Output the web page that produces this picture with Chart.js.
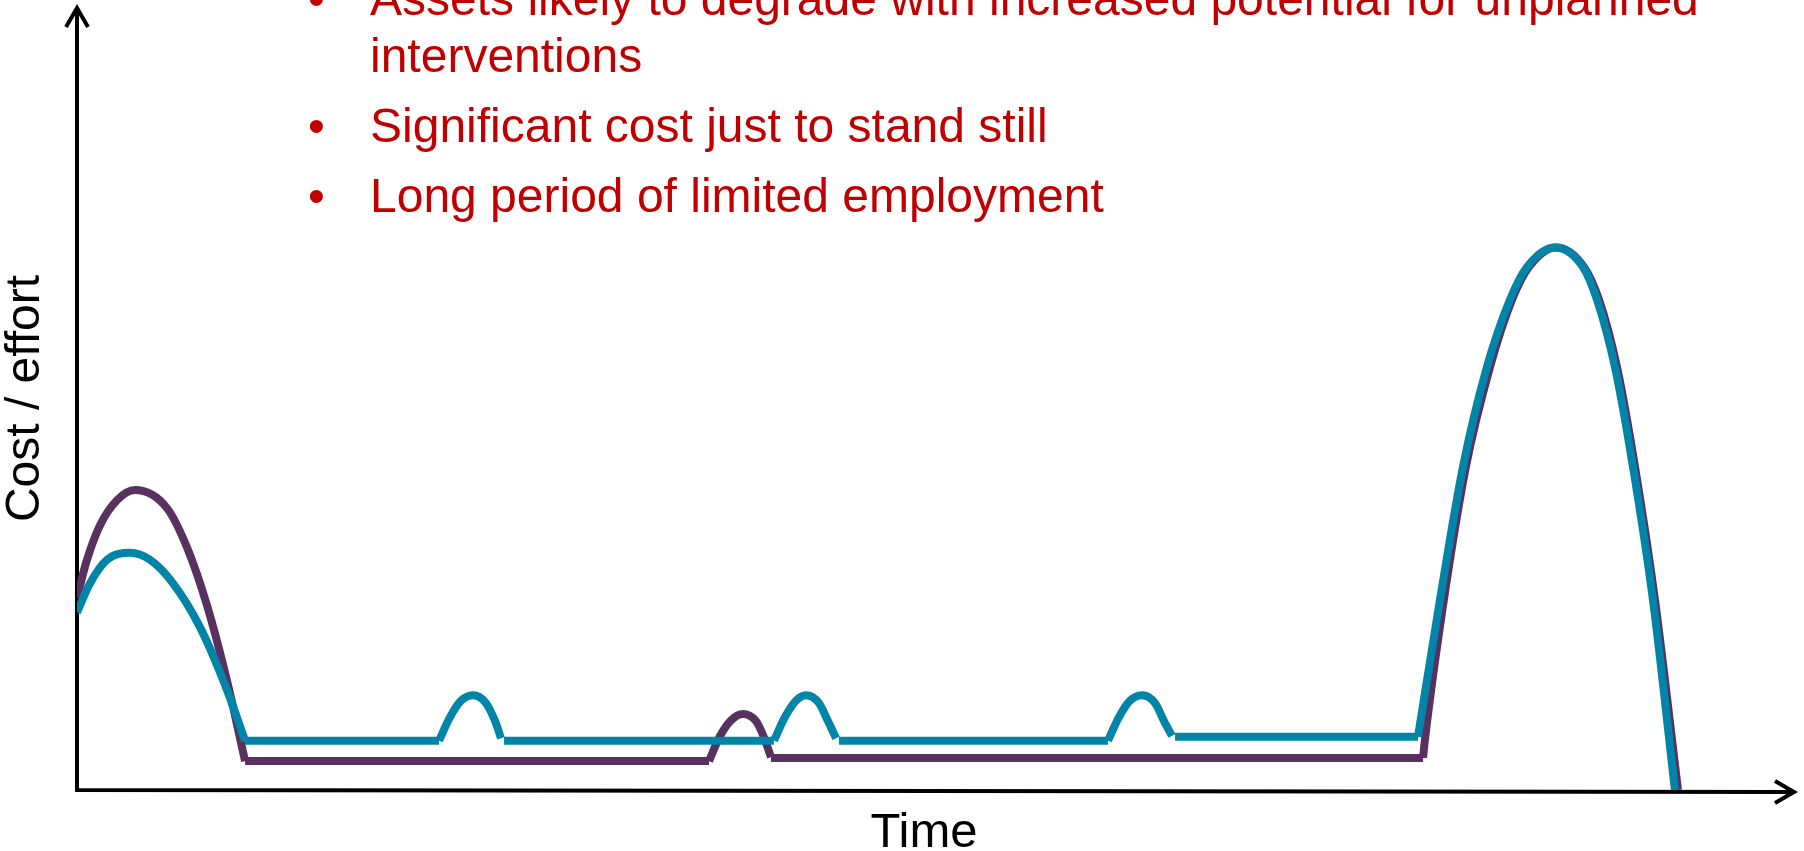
<!DOCTYPE html>
<html>
<head>
<meta charset="utf-8">
<title>Cost / effort over time</title>
<script src="https://cdn.jsdelivr.net/npm/chart.js@4.4.1/dist/chart.umd.min.js"></script>
<style>
  html, body { margin: 0; padding: 0; background: #fff; overflow: hidden; }
  #wrap { position: relative; width: 1804px; height: 851px; }
  #lifeChart { position: absolute; left: 0; top: 0; }
  #notes {
    position: absolute; left: 370px; top: -30px; margin: 0; padding: 0; list-style: none;
    font: 48px/57px "Liberation Sans", Arial, sans-serif; color: #c00000; white-space: nowrap;
  }
  #notes li { position: relative; }
  #notes li + li { margin-top: 13px; }
  #notes li::before { content: "\2022"; position: absolute; left: -62px; }
</style>
</head>
<body>
<div id="wrap">
  <canvas id="lifeChart" width="1804" height="851"></canvas>
  <ul id="notes"></ul>
</div>
<script>
// bullet text above the curves
const noteLines = [
  ["Assets likely to degrade with increased potential for unplanned", "interventions"],
  ["Significant cost just to stand still"],
  ["Long period of limited employment"],
];

const xTitle = "Time";
const yTitle = "Cost / effort";

// teal curve (time 0-100, cost 0-100); a null y starts a new piece
const tealX = [
  0, 0.77, 1.77, 3.13, 4.31, 5.67, 7.26, 8.85, 9.92, 9.92,
  9.92, 21.37, 21.37,
  21.37, 22.02, 22.67, 23.38, 24.14, 24.68, 25.03, 25.10,
  25.21, 41.14, 41.14,
  41.14, 41.79, 42.44, 43.03, 43.80, 44.33, 44.81, 44.90,
  44.98, 60.86, 60.86,
  60.86, 61.51, 62.16, 62.87, 63.64, 64.17, 64.64, 64.70,
  64.82, 79.16, 79.16,
  79.16, 80.46, 81.82, 83.23, 84.59, 85.60, 87.25, 88.90, 89.73, 90.79, 91.85, 93.03, 94.33];
const tealY = [
  22.7, 26.4, 29.4, 30.3, 29.4, 26.4, 20.8, 12.8, 6.3, null,
  6.3, 6.3, null,
  6.3, 9.3, 11.4, 12.1, 11.1, 8.8, 6.6, null,
  6.3, 6.3, null,
  6.3, 9.3, 11.4, 12.1, 11.1, 8.8, 6.6, null,
  6.3, 6.3, null,
  6.3, 9.3, 11.4, 12.1, 11.1, 8.8, 6.9, null,
  6.8, 6.8, null,
  6.8, 24.3, 41.3, 54.0, 62.6, 66.8, 69.3, 66.8, 62.6, 54.0, 41.3, 24.3, 0];

// purple curve
const purpleX = [
  0, 0.59, 1.36, 2.36, 3.42, 5.31, 6.49, 7.67, 8.85, 9.92, 9.92,
  9.92, 37.31, 37.31,
  37.31, 37.96, 38.61, 39.32, 40.08, 40.50, 40.97, 40.97,
  40.97, 79.46, 79.46,
  79.46, 79.57, 80.69, 81.99, 83.41, 84.71, 85.71, 87.31, 88.96, 89.85, 90.91, 91.97, 93.15, 94.51];
const purpleY = [
  24.6, 29.4, 33.8, 37.0, 38.3, 36.0, 31.0, 23.6, 14.0, 3.7, null,
  3.7, 3.7, null,
  3.7, 6.9, 8.9, 9.7, 8.8, 7.0, 4.2, null,
  4.1, 4.1, null,
  4.1, 6.4, 24.3, 41.3, 54.0, 62.6, 66.8, 69.3, 66.8, 62.6, 54.0, 41.3, 24.3, 0];

const TEAL = "#0085a8";
const PURPLE = "#583160";

function toPoints(xs, ys) {
  return xs.map((x, i) => ({ x, y: ys[i] }));
}

function renderNotes() {
  const ul = document.getElementById("notes");
  ul.innerHTML = noteLines.map((parts) => `<li>${parts.join("<br>")}</li>`).join("");
}

// black axes with open arrow heads
const axisArrows = {
  id: "axisArrows",
  beforeDatasetsDraw(chart) {
    const { ctx, chartArea: { left, right, top, bottom } } = chart;
    const tipX = right + 24;
    const tipY = bottom + 2;
    ctx.save();
    ctx.strokeStyle = "#000";
    ctx.lineWidth = 4;
    ctx.lineJoin = "miter";
    ctx.beginPath();
    ctx.moveTo(left, top + 3);
    ctx.lineTo(left, bottom);
    ctx.lineTo(tipX - 3, tipY);
    ctx.stroke();
    ctx.beginPath();
    ctx.moveTo(left - 11, top + 20);
    ctx.lineTo(left, top + 1);
    ctx.lineTo(left + 11, top + 20);
    ctx.moveTo(tipX - 20, tipY - 11);
    ctx.lineTo(tipX - 1, tipY);
    ctx.lineTo(tipX - 20, tipY + 11);
    ctx.stroke();
    ctx.restore();
  },
};

function renderChart() {
  Chart.defaults.font.family = '"Liberation Sans", Arial, sans-serif';
  Chart.defaults.color = "#000";

  const line = (label, xs, ys, color) => ({
    label,
    data: toPoints(xs, ys),
    borderColor: color,
    borderWidth: 8,
    pointRadius: 0,
    fill: false,
    spanGaps: false,
    cubicInterpolationMode: "monotone",
    borderCapStyle: "butt",
    borderJoinStyle: "round",
  });

  new Chart(document.getElementById("lifeChart"), {
    type: "line",
    data: {
      datasets: [
        line("Teal", tealX, tealY, TEAL),
        line("Purple", purpleX, purpleY, PURPLE),
      ],
    },
    options: {
      responsive: false,
      animation: false,
      events: [],
      layout: { padding: { left: 0, right: 33, top: 7, bottom: 0 } },
      plugins: { legend: { display: false }, tooltip: { enabled: false } },
      scales: {
        x: {
          type: "linear",
          min: 0,
          max: 100,
          ticks: { display: false },
          grid: { display: false, drawTicks: false },
          border: { display: false },
          title: { display: true, text: xTitle, font: { size: 49, lineHeight: 0.72 }, padding: 0 },
          afterFit: (s) => { s.height = 61; },
        },
        y: {
          type: "linear",
          min: 0,
          max: 100,
          ticks: { display: false },
          grid: { display: false, drawTicks: false },
          border: { display: false },
          title: { display: true, text: yTitle, font: { size: 48, lineHeight: 1 }, padding: { top: 2, bottom: 0 } },
          afterFit: (s) => { s.width = 77; },
        },
      },
    },
    plugins: [axisArrows],
  });
}

renderNotes();
renderChart();
</script>
</body>
</html>
